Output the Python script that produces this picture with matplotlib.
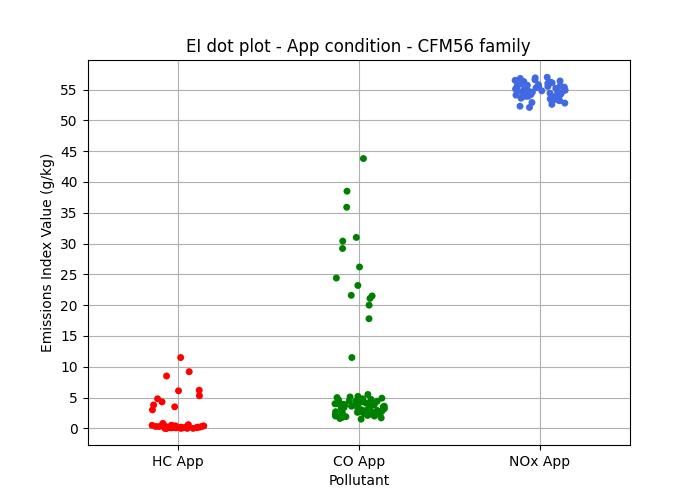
import numpy as np
import matplotlib.pyplot as plt
import seaborn as sns

hc = [11.5, 9.2, 8.5, 6.1, 6.2, 5.3, 4.8, 4.3, 3.8, 3.5, 3.0,
      0.1, 0.2, 0.0, 0.3, 0.1, 0.5, 0.2, 0.0, 0.4, 0.1, 0.6, 0.2, 0.3, 0.1,
      0.0, 0.2, 0.8, 0.1, 0.3, 0.4, 0.0, 0.2, 0.1, 0.5, 0.3, 0.2, 0.0, 0.1,
      0.7, 0.2, 0.1, 0.3, 0.0, 0.4, 0.2]
co = [43.8, 38.5, 35.9, 31.0, 30.4, 29.2, 26.2, 24.4, 23.2, 21.6, 21.1, 21.5,
      20.0, 17.8, 11.5,
      5.5, 5.1, 4.8, 4.5, 4.2, 4.0, 3.8, 3.6, 3.4, 3.2, 3.0, 2.8, 2.6, 2.4,
      2.2, 2.0, 1.8, 1.6, 5.0, 4.6, 4.3, 3.9, 3.5, 3.1, 2.7, 2.3, 1.9, 4.9,
      4.4, 3.7, 3.3, 2.9, 2.5, 2.1, 1.7, 4.1, 3.6, 3.0, 2.6, 2.2, 4.7, 3.8,
      3.2, 2.4, 1.5, 4.0, 3.4, 2.8, 2.0, 5.2, 4.5, 3.9, 3.3, 2.7, 2.1]
nox = [57.0, 56.8, 56.6, 56.5, 56.3, 56.1, 56.0, 55.8, 55.7, 55.5, 55.4, 55.3,
       55.2, 55.1, 55.0, 54.9, 54.8, 54.7, 54.6, 54.5, 54.4, 54.3, 54.2, 54.1,
       54.0, 53.9, 53.8, 53.6, 53.5, 53.3, 53.1, 52.9, 52.6, 52.3, 52.1, 56.9,
       56.4, 55.9, 55.6, 55.2, 54.9, 54.6, 54.3, 53.9, 53.4, 52.8, 56.2, 55.5,
       54.8, 54.1, 53.2, 55.7, 55.0, 54.4, 53.7]

labels = ['HC App', 'CO App', 'NOx App']
x = [labels[0]] * len(hc) + [labels[1]] * len(co) + [labels[2]] * len(nox)
y = hc + co + nox

np.random.seed(3)
fig, ax = plt.subplots(figsize=(7, 5), dpi=100)
sns.stripplot(x=x, y=y, hue=x, palette=['red', 'green', 'royalblue'],
              jitter=0.15, size=5, ax=ax, legend=False, zorder=3)
ax.set_yticks(np.arange(0, 56, 5))
ax.set_ylim(-2.7, 59.8)
ax.grid(True)
ax.set_axisbelow(True)
ax.set_xlabel('Pollutant')
ax.set_ylabel('Emissions Index Value (g/kg)')
ax.set_title('EI dot plot - App condition - CFM56 family')
fig.savefig('out.png')
